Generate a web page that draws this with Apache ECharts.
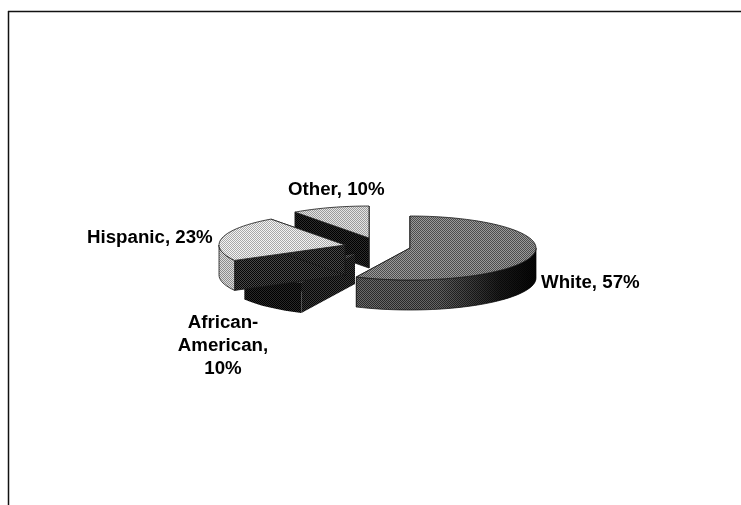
<!DOCTYPE html>
<html>
<head>
<meta charset="utf-8">
<style>html,body{margin:0;padding:0;background:#fff}#c{width:741px;height:505px}</style>
<script src="https://cdn.jsdelivr.net/npm/echarts@6/dist/echarts.min.js"></script>
</head>
<body>
<div id="c"></div>
<script>
const categories = ['White', 'African-American', 'Hispanic', 'Other'];
const values = [57, 10, 23, 10];
const labelLines = [['White, 57%'], ['African-', 'American,', '10%'], ['Hispanic, 23%'], ['Other, 10%']];

// layout, kept apart from the data
const RX = 126, RY = 32, DEPTH = 30;
const apex = [[410, 248], [355, 254], [345, 245], [369, 238]];
const labelAt = [[541, 283, 'left'], [223, 346, 'center'], [87, 238, 'left'], [288, 190, 'left']];
const order = [1, 3, 4, 2]; // z order of the slices (painter's)

function checker(a, b) {
  const c = document.createElement('canvas');
  c.width = c.height = 2;
  const g = c.getContext('2d');
  g.fillStyle = a; g.fillRect(0, 0, 2, 2);
  g.fillStyle = b; g.fillRect(0, 0, 1, 1); g.fillRect(1, 1, 1, 1);
  return { image: c, repeat: 'repeat' };
}
const topFill = [checker('#9a9a9a', '#4c4c4c'), checker('#606060', '#141414'), checker('#f4f4f4', '#a8a8a8'), checker('#e4e4e4', '#9a9a9a')];
const arcFill = [checker('#6a6a6a', '#2a2a2a'), checker('#282828', '#000000'), checker('#dcdcdc', '#8c8c8c'), checker('#181818', '#000000')];
const cutFill = [checker('#6a6a6a', '#2a2a2a'), checker('#383838', '#060606'), checker('#484848', '#060606'), checker('#2c2c2c', '#000000')];

const total = values.reduce((s, v) => s + v, 0);
function angles(i) {
  const before = values.slice(0, i).reduce((s, v) => s + v, 0);
  return [before / total * 360, (before + values[i]) / total * 360];
}
function pt(c, deg, dy) {
  const r = deg * Math.PI / 180;
  return [c[0] + RX * Math.sin(r), c[1] - RY * Math.cos(r) + (dy || 0)];
}
function arc(c, a0, a1, dy) {
  const out = [];
  const n = Math.max(2, Math.ceil(Math.abs(a1 - a0) / 3));
  for (let k = 0; k <= n; k++) out.push(pt(c, a0 + (a1 - a0) * k / n, dy));
  return out;
}
function renderSlice(params) {
  const i = params.dataIndex, c = apex[i], [a0, a1] = angles(i);
  const kids = [];
  const base = order[i] * 10;
  const poly = (points, fill, z, outlined) => ({
    type: 'polygon', z2: base + z, silent: true,
    shape: { points },
    style: { fill, stroke: outlined ? '#1a1a1a' : null, lineWidth: 0.8 }
  });
  const dark = i === 1;
  // cut faces
  const c2 = [c[0], c[1] + DEPTH];
  kids.push(poly([c, pt(c, a0), pt(c, a0, DEPTH), c2], cutFill[i], 0, !dark));
  kids.push(poly([c, pt(c, a1), pt(c, a1, DEPTH), c2], cutFill[i], 0, !dark));
  // front wall
  const f0 = Math.max(a0, 90), f1 = Math.min(a1, 270);
  if (f1 > f0) {
    const top = arc(c, f0, f1), bot = arc(c, f1, f0, DEPTH);
    kids.push(poly(top.concat(bot), arcFill[i], 1, !dark));
    if (i === 0) {
      kids.push({
        type: 'polygon', z2: base + 2, silent: true, shape: { points: top.concat(bot) },
        style: { fill: { type: 'linear', x: 0, y: 0, x2: 1, y2: 0, colorStops: [
          { offset: 0, color: 'rgba(0,0,0,0)' }, { offset: 0.45, color: 'rgba(0,0,0,0.05)' },
          { offset: 0.8, color: 'rgba(0,0,0,0.75)' }, { offset: 1, color: 'rgba(0,0,0,0.95)' }] } }
      });
    }
  }
  // top face
  kids.push(poly([c].concat(arc(c, a0, a1)), topFill[i], 3, !dark));
  // label
  const la = labelAt[i];
  kids.push({
    type: 'text', z2: 100, silent: true,
    x: la[0], y: la[1],
    style: {
      text: labelLines[i].join('\n'), fill: '#000',
      font: 'bold 18.7px "Liberation Sans", Arial, sans-serif',
      align: la[2], verticalAlign: 'middle', lineHeight: 23
    }
  });
  return { type: 'group', children: kids };
}

const chart = echarts.init(document.getElementById('c'), null, { renderer: 'canvas' });
chart.setOption({
  animation: false,
  backgroundColor: '#fff',
  graphic: [
    { type: 'line', shape: { x1: 8, y1: 11.5, x2: 741, y2: 11.5 }, style: { stroke: '#111', lineWidth: 1.5 } },
    { type: 'line', shape: { x1: 8.5, y1: 11, x2: 8.5, y2: 505 }, style: { stroke: '#111', lineWidth: 1.5 } }
  ],
  series: [{
    type: 'custom',
    coordinateSystem: 'none',
    renderItem: renderSlice,
    data: categories.map((name, i) => ({ name, value: values[i] }))
  }]
});
</script>
</body>
</html>
